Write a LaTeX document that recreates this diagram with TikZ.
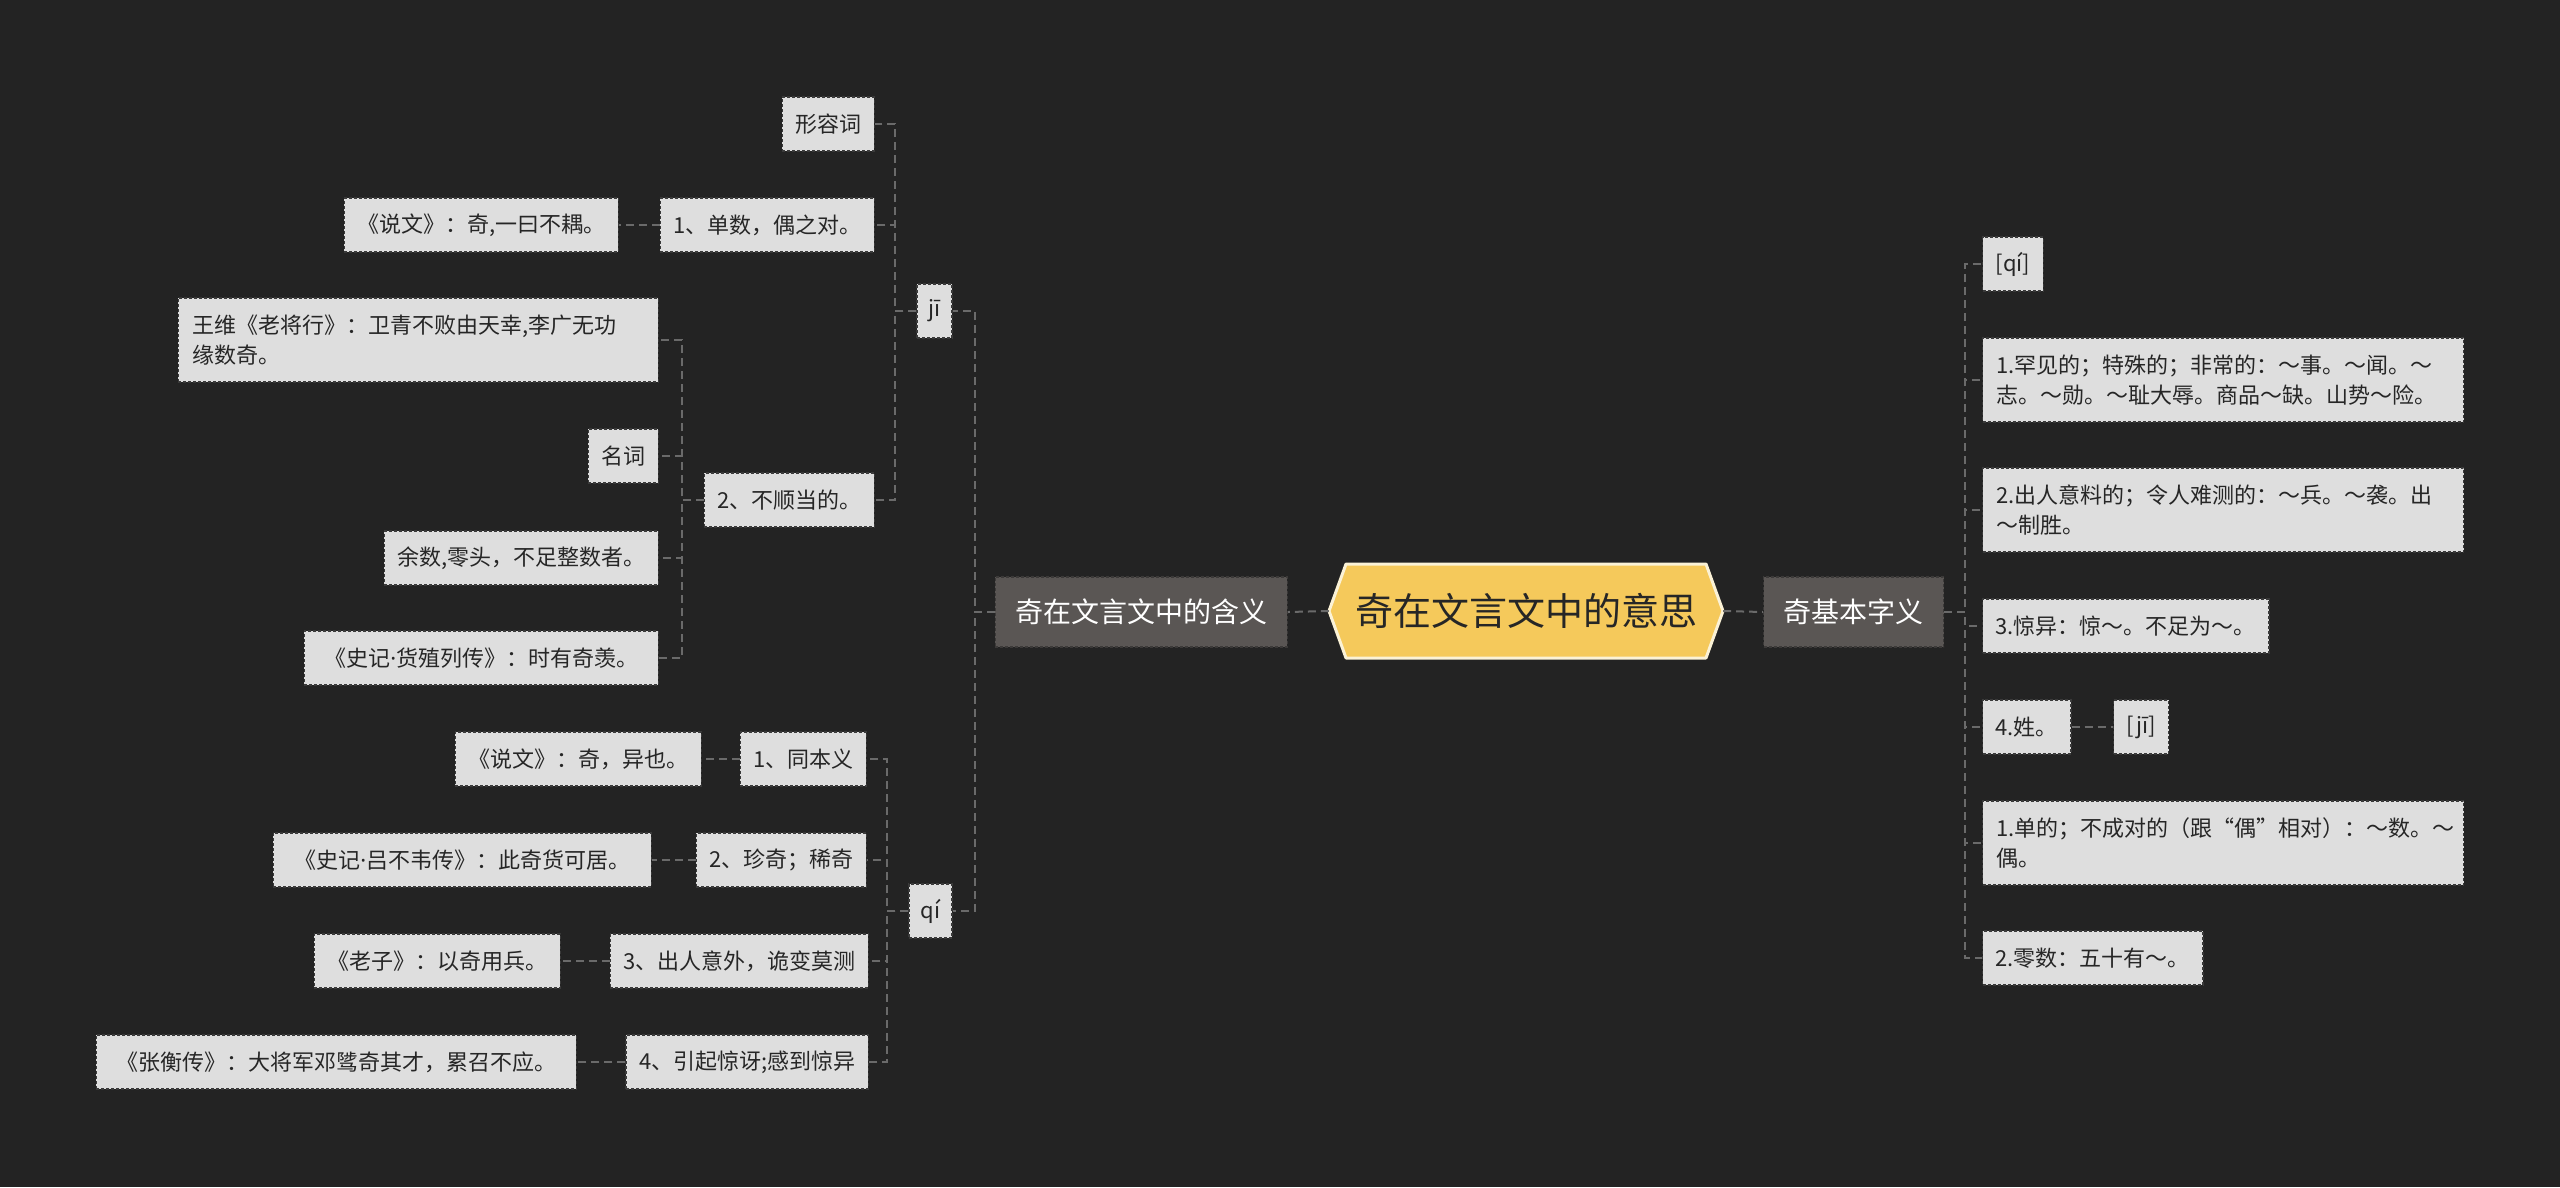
\documentclass[tikz,border=0pt]{standalone}
\usepackage{fontspec}
\setmainfont{Noto Sans CJK SC}
\newfontfamily\latinfont{Noto Sans}
\usepackage{xcolor}
\definecolor{bgcol}{HTML}{232323}
\definecolor{leaffill}{HTML}{DEDEDE}
\definecolor{leafedge}{HTML}{3A3A3A}
\definecolor{stemfill}{HTML}{5A5654}
\definecolor{stemedge}{HTML}{3C3A39}
\definecolor{corefill}{HTML}{F5C95B}
\definecolor{coreedge}{HTML}{FBF2D6}
\definecolor{linkcol}{HTML}{6A6A6A}
\definecolor{inkcol}{HTML}{262626}
\newcommand{\middot}{{\latinfont ·}}

\begin{document}
\begin{tikzpicture}[x=1pt, y=-1pt,
    leaf/.style={draw=leafedge, dash pattern=on 3pt off 2pt, line width=1.2pt, fill=leaffill, text=inkcol,
        font=\fontsize{22}{30}\selectfont, minimum height=54, inner xsep=13, inner ysep=8},
    twoline/.style={leaf, align=left, text width=#1, inner xsep=14, minimum height=84},
    stem/.style={draw=stemedge, dash pattern=on 3pt off 2pt, line width=1.2pt, fill=stemfill, text=white,
        font=\fontsize{28}{34}\selectfont, minimum height=70, inner xsep=20},
    link/.style={draw=linkcol, line width=2pt, dash pattern=on 8pt off 5pt}
]
    \fill[bgcol] (0,0) rectangle (2560,1187);
    \useasboundingbox (0,0) rectangle (2560,1187);

    \coordinate (mid) at (1526,611);
    \filldraw[fill=corefill, draw=coreedge, line width=3pt, line join=round]
        (mid) ++(-197,0) -- ++(17,-47) -- ++(360,0) -- ++(17,47) -- ++(-17,47) -- ++(-360,0) -- cycle;
    \node[minimum width=394, minimum height=94, text=inkcol, font=\fontsize{38}{44}\selectfont] (core) at (mid) {奇在文言文中的意思};

    \node[stem, anchor=east] (hanyi) at (1288,612) {奇在文言文中的含义};
    \node[stem, anchor=west] (ziyi) at (1763,612) {奇基本字义};

    \node[leaf, minimum width=35, inner xsep=4] (ji) at (934.5,311) {jī};
    \node[leaf, minimum width=43, inner xsep=4] (qi) at (930.5,911) {qí};

    \node[leaf, anchor=east] (xingrong) at (875,124) {形容词};
    \node[leaf, anchor=east] (dan) at (875,225) {1、单数，偶之对。};
    \node[leaf, anchor=east] (shuowena) at (619,225) {《说文》：奇,一曰不耦。};
    \node[leaf, anchor=east] (bushun) at (875,500) {2、不顺当的。};
    \node[twoline=452, anchor=east] (wangwei) at (659,340) {王维《老将行》：卫青不败由天幸,李广无功\\缘数奇。};
    \node[leaf, anchor=east] (mingci) at (659,456) {名词};
    \node[leaf, anchor=east] (yushu) at (659,558) {余数,零头，不足整数者。};
    \node[leaf, anchor=east, minimum width=354] (huozhi) at (659,658) {《史记\middot 货殖列传》：时有奇羡。};

    \node[leaf, anchor=east] (tong) at (867,759) {1、同本义};
    \node[leaf, anchor=east] (shuowenb) at (702,759) {《说文》：奇，异也。};
    \node[leaf, anchor=east] (zhen) at (867,860) {2、珍奇；稀奇};
    \node[leaf, anchor=east, minimum width=378] (lvbuwei) at (652,860) {《史记\middot 吕不韦传》：此奇货可居。};
    \node[leaf, anchor=east] (churen) at (869,961) {3、出人意外，诡变莫测};
    \node[leaf, anchor=east] (laozi) at (561,961) {《老子》：以奇用兵。};
    \node[leaf, anchor=east] (jingya) at (869,1062) {4、引起惊讶;感到惊异};
    \node[leaf, anchor=east, inner xsep=20] (zhangheng) at (577,1062) {《张衡传》：大将军邓骘奇其才，累召不应。};

    \node[leaf, anchor=west] (qipin) at (1982,264) {[qí]};
    \node[twoline=453, anchor=west] (hanjian) at (1982,380) {1.罕见的；特殊的；非常的：～事。～闻。～\\志。～勋。～耻大辱。商品～缺。山势～险。};
    \node[twoline=453, anchor=west] (yiliao) at (1982,510) {2.出人意料的；令人难测的：～兵。～袭。出\\～制胜。};
    \node[leaf, anchor=west] (jingyi) at (1982,626) {3.惊异：惊～。不足为～。};
    \node[leaf, anchor=west] (xing) at (1982,727) {4.姓。};
    \node[leaf, anchor=west] (jipin) at (2113,727) {[jī]};
    \node[twoline=453, anchor=west] (dande) at (1982,843) {1.单的；不成对的（跟“偶”相对）：～数。～\\偶。};
    \node[leaf, anchor=west] (lingshu) at (1982,958) {2.零数：五十有～。};

    \draw[link] (core.west) -- (hanyi.east);
    \draw[link] (core.east) -- (ziyi.west);
    \foreach \kid in {ji, qi}
        \draw[link] (hanyi.west) -- ++(-20,0) |- (\kid.east);
    \foreach \kid in {xingrong, dan, bushun}
        \draw[link] (ji.west) -- ++(-21,0) |- (\kid.east);
    \foreach \kid in {wangwei, mingci, yushu, huozhi}
        \draw[link] (bushun.west) -- ++(-22,0) |- (\kid.east);
    \foreach \kid in {tong, zhen, churen, jingya}
        \draw[link] (qi.west) -- ++(-21,0) |- (\kid.east);
    \draw[link] (dan.west) -- (shuowena.east);
    \draw[link] (tong.west) -- (shuowenb.east);
    \draw[link] (zhen.west) -- (lvbuwei.east);
    \draw[link] (churen.west) -- (laozi.east);
    \draw[link] (jingya.west) -- (zhangheng.east);
    \foreach \kid in {qipin, hanjian, yiliao, jingyi, xing, dande, lingshu}
        \draw[link] (ziyi.east) -- ++(21,0) |- (\kid.west);
    \draw[link] (xing.east) -- (jipin.west);
\end{tikzpicture}
\end{document}
